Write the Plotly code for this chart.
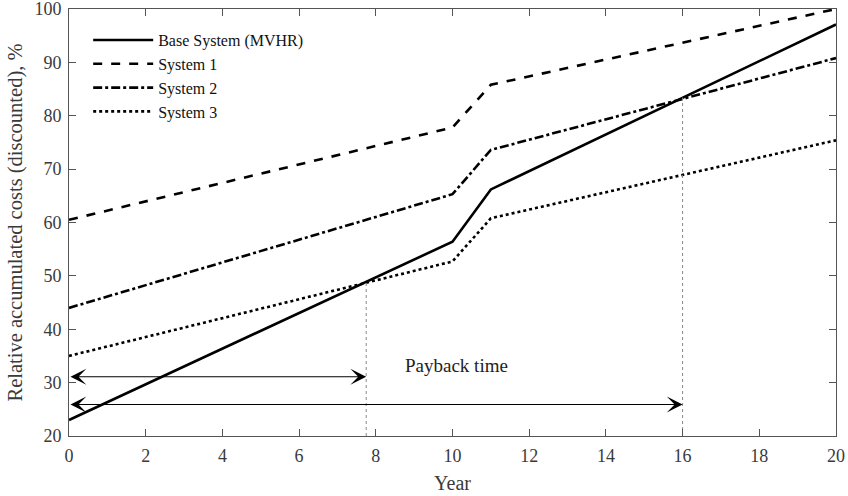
import plotly.graph_objects as go

years = [0, 10, 11, 20]
base_mvhr = [23.0, 56.4, 66.2, 97.1]
system1 = [60.5, 77.8, 85.8, 100.0]
system2 = [44.0, 65.3, 73.6, 90.8]
system3 = [35.0, 52.7, 60.8, 75.4]

series_names = ["Base System (MVHR)", "System 1", "System 2", "System 3"]
payback_years = [7.75, 16.0]
payback_costs = [49.0, 83.4]
arrow_levels = [31.1, 25.9]
payback_label = "Payback time"

font_family = "Liberation Serif, Times New Roman, serif"

fig = go.Figure()
styles = ["solid", "dash", "dashdot", "dot"]
for name, vals, dash in zip(series_names, [base_mvhr, system1, system2, system3], styles):
    fig.add_trace(go.Scatter(x=years, y=vals, mode="lines", name=name,
                             line=dict(color="black", width=2.6, dash=dash)))

# vertical payback markers
for px, py in zip(payback_years, payback_costs):
    fig.add_trace(go.Scatter(x=[px, px], y=[20, py], mode="lines", showlegend=False,
                             line=dict(color="#888888", width=1, dash="3px,3px"), hoverinfo="skip"))

# double-headed arrows
for px, ly in zip(payback_years, arrow_levels):
    fig.add_annotation(x=px, y=ly, ax=0, ay=ly, xref="x", yref="y", axref="x", ayref="y",
                       showarrow=True, arrowhead=3, startarrowhead=3, arrowside="end+start",
                       arrowwidth=1.2, arrowsize=2.2, startarrowsize=2.2,
                       arrowcolor="black", text="")

fig.add_annotation(x=10.1, y=33.3, xref="x", yref="y", text=payback_label, showarrow=False,
                   font=dict(family=font_family, size=19, color="#222222"))

fig.update_layout(
    width=848, height=496,
    margin=dict(l=69, r=12, t=9, b=60),
    paper_bgcolor="white", plot_bgcolor="white",
    font=dict(family=font_family, size=18, color="#3a3a3a"),
    legend=dict(x=0.025, y=0.967, xanchor="left", yanchor="top",
                bgcolor="rgba(0,0,0,0)", font=dict(size=16, color="#111111"),
                tracegroupgap=0, itemwidth=60),
    xaxis=dict(range=[0, 20], dtick=2, showgrid=False, zeroline=False, automargin=False,
               showline=True, linecolor="#555555", linewidth=1, mirror="ticks",
               ticks="inside", ticklen=7, tickcolor="#555555", ticklabelstandoff=3,
               ticklabeloverflow="allow",
               title=dict(text="Year", font=dict(size=20), standoff=11)),
    yaxis=dict(range=[20, 100], dtick=10, showgrid=False, zeroline=False, automargin=False,
               showline=True, linecolor="#555555", linewidth=1, mirror="ticks",
               ticks="inside", ticklen=7, tickcolor="#555555", ticklabelstandoff=3,
               ticklabeloverflow="allow",
               title=dict(text="Relative accumulated costs (discounted), %", font=dict(size=20.5), standoff=6)),
)

fig.write_html("out.html")
